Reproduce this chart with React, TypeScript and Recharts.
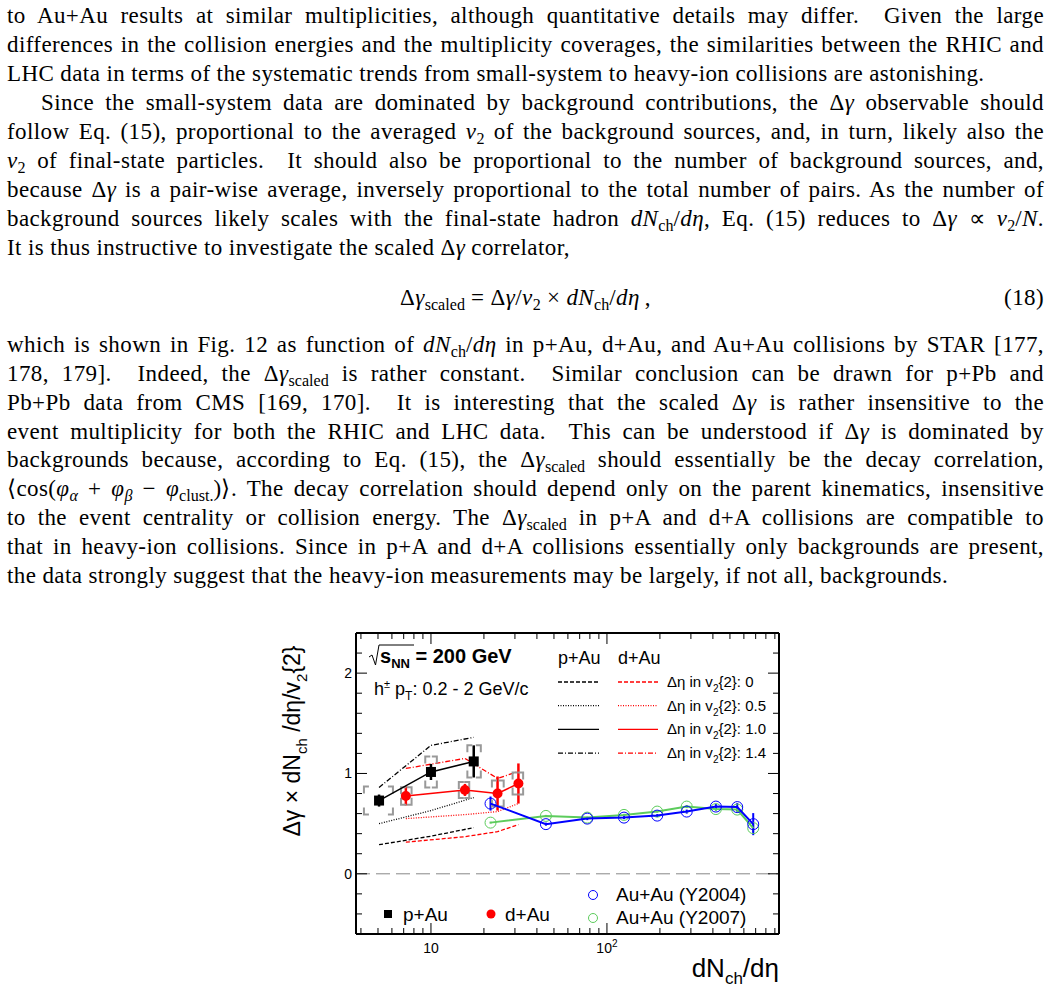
import React from "react"
import { ComposedChart, Line, Scatter, XAxis, YAxis, ErrorBar, ReferenceLine } from "recharts"

// axis ticks
const xTicks = [4, 5, 6, 7, 8, 9, 10, 20, 30, 40, 50, 60, 70, 80, 90, 100, 200, 300, 400, 500, 600, 700, 800, 900]
const xMajor = [10, 100]
const xMajorLabels = ["10", "10^2"]
const yTicks = [-0.4, -0.2, 0, 0.2, 0.4, 0.6, 0.8, 1, 1.2, 1.4, 1.6, 1.8, 2, 2.2]
const yMajor = [0, 1, 2]
const yMajorLabels = ["0", "1", "2"]

// p+Au (STAR), Δη = 1.0
const paX = [5.07, 10, 17.5]
const paY = [0.73, 1.015, 1.12]
const paErr = [0.06, 0.08, 0.16]
const paSys = [0.14, 0.155, 0.16]
const paXlo = [4.16, 9.28, 16.1]
const paXhi = [6.08, 10.8, 19.2]

// d+Au (STAR), Δη = 1.0
const daX = [7.2, 15.6, 23.9, 31.4]
const daY = [0.776, 0.836, 0.8, 0.9]
const daErr = [0.095, 0.06, 0.17, 0.2]
const daSys = [0.087, 0.08, 0.13, 0.11]
const daXlo = [6.76, 14.4, 22.2, 29.1]
const daXhi = [7.76, 16.5, 25.9, 33.4]

// p+Au / d+Au with other Δη gaps
const paGap0 = [0.29, 0.375, 0.46]
const paGap05 = [0.5, 0.63, 0.76]
const paGap14 = [0.86, 1.28, 1.36]
const daGap0 = [0.315, 0.37, 0.42, 0.49]
const daGap05 = [0.55, 0.59, 0.62, 0.7]
const daGap14 = [1.05, 1.15, 0.95, 1.02]

// Au+Au
const auX = [21.8, 45, 77.3, 125, 193, 284, 416, 550, 678]
const au04Y = [0.7, 0.495, 0.55, 0.56, 0.58, 0.62, 0.67, 0.665, 0.495]
const au04Err = [0.07, 0.015, 0.015, 0.015, 0.015, 0.02, 0.025, 0.04, 0.11]
const au07Y = [0.51, 0.577, 0.56, 0.587, 0.62, 0.67, 0.645, 0.64, 0.455]
const au07Err = [0.01, 0.01, 0.01, 0.01, 0.01, 0.015, 0.02, 0.03, 0.04]

const pts = (xs: number[], ys: number[], es?: number[]) =>
    xs.map((x, i) => ({ x, y: ys[i], e: es ? es[i] : 0 }))

const corners = (ys: number[], sys: number[], lo: number[], hi: number[]) =>
    ys.flatMap((y, i) => [
        { x: lo[i], y: y + sys[i], c: "tl" },
        { x: hi[i], y: y + sys[i], c: "tr" },
        { x: lo[i], y: y - sys[i], c: "bl" },
        { x: hi[i], y: y - sys[i], c: "br" },
    ])

const FONT = "'Liberation Sans', Arial, sans-serif"
const GREEN = "#5ccc5c"
const DASH = "4 2"
const DOT = "1 1.5"
const DASHDOT = "5 2 1 2"

const BottomTick = (p: any) => {
    const v = p.payload.value
    const k = xMajor.indexOf(v)
    const lab = k >= 0 ? xMajorLabels[k].split("^") : null
    return (
        <g>
            <line x1={p.x} x2={p.x} y1={p.y} y2={p.y - (k >= 0 ? 11 : 6)} stroke="#000" />
            {lab && (
                <text x={p.x} y={p.y + 19} textAnchor="middle" fontSize={14} fontFamily={FONT} fill="#000">
                    {lab[0]}
                    {lab[1] && <tspan dy={-6} fontSize={10}>{lab[1]}</tspan>}
                </text>
            )}
        </g>
    )
}

const TopTick = (p: any) => {
    const major = xMajor.includes(p.payload.value)
    return <line x1={p.x} x2={p.x} y1={p.y} y2={p.y + (major ? 11 : 6)} stroke="#000" />
}

const LeftTick = (p: any) => {
    const v = p.payload.value
    const k = yMajor.findIndex((m) => Math.abs(m - v) < 1e-6)
    return (
        <g>
            <line x1={p.x} x2={p.x + (k >= 0 ? 11 : 6)} y1={p.y} y2={p.y} stroke="#000" />
            {k >= 0 && (
                <text x={p.x - 4} y={p.y + 5} textAnchor="end" fontSize={14} fontFamily={FONT} fill="#000">
                    {yMajorLabels[k]}
                </text>
            )}
        </g>
    )
}

const RightTick = (p: any) => {
    const major = yMajor.some((m) => Math.abs(m - p.payload.value) < 1e-6)
    return <line x1={p.x} x2={p.x - (major ? 11 : 6)} y1={p.y} y2={p.y} stroke="#000" />
}

const Corner = (p: any) => {
    const { cx, cy } = p
    const c = p.payload.c
    const h = c[1] === "l" ? 5 : -5
    const v = c[0] === "t" ? 7 : -7
    return <path d={`M${cx + h},${cy} L${cx},${cy} L${cx},${cy + v}`} fill="none" stroke="#999" strokeWidth={2} />
}

const Square = (p: any) => <rect x={p.cx - 5} y={p.cy - 5} width={10} height={10} fill="#000" />
const Dot = (p: any) => <circle cx={p.cx} cy={p.cy} r={5} fill="#ff0000" />
const Ring = (color: string) => (p: any) => (
    <circle cx={p.cx} cy={p.cy} r={5.5} fill="none" stroke={color} strokeWidth={1} />
)

const sub: React.CSSProperties = { fontSize: "0.7em", position: "relative", top: "0.3em", lineHeight: 0, letterSpacing: 0 }
const Sub = ({ children }: any) => <span style={sub}>{children}</span>
const dNdeta = (
    <>
        <i>dN</i>
        <Sub>ch</Sub>/<i>dη</i>
    </>
)
const dgs = (
    <>
        Δ<i>γ</i>
        <Sub>scaled</Sub>
    </>
)
const v2 = (
    <>
        <i>v</i>
        <Sub>2</Sub>
    </>
)

const TextLine = ({ top, indent = 0, justify = true, children }: any) => (
    <div
        style={{
            position: "absolute",
            left: 7,
            width: 1037 - indent,
            paddingLeft: indent,
            top,
            height: 29,
            lineHeight: "29px",
            whiteSpace: "nowrap",
            textAlign: justify ? "justify" : "left",
            textAlignLast: justify ? "justify" : "left",
        }}
    >
        {children}
    </div>
)

const block1 = [
    <>to Au+Au results at similar multiplicities, although quantitative details may differ. &nbsp;Given the large</>,
    <>differences in the collision energies and the multiplicity coverages, the similarities between the RHIC and</>,
    <>LHC data in terms of the systematic trends from small-system to heavy-ion collisions are astonishing.</>,
    <>Since the small-system data are dominated by background contributions, the Δ<i>γ</i> observable should</>,
    <>follow Eq. (15), proportional to the averaged {v2} of the background sources, and, in turn, likely also the</>,
    <>{v2} of final-state particles. &nbsp;It should also be proportional to the number of background sources, and,</>,
    <>because Δ<i>γ</i> is a pair-wise average, inversely proportional to the total number of pairs. As the number of</>,
    <>background sources likely scales with the final-state hadron {dNdeta}, Eq. (15) reduces to Δ<i>γ</i> ∝ {v2}/<i>N</i>.</>,
    <>It is thus instructive to investigate the scaled Δ<i>γ</i> correlator,</>,
]

const block2 = [
    <>which is shown in Fig. 12 as function of {dNdeta} in p+Au, d+Au, and Au+Au collisions by STAR [177,</>,
    <>178, 179]. &nbsp;Indeed, the {dgs} is rather constant. &nbsp;Similar conclusion can be drawn for p+Pb and</>,
    <>Pb+Pb data from CMS [169, 170]. &nbsp;It is interesting that the scaled Δ<i>γ</i> is rather insensitive to the</>,
    <>event multiplicity for both the RHIC and LHC data. &nbsp;This can be understood if Δ<i>γ</i> is dominated by</>,
    <>backgrounds because, according to Eq. (15), the {dgs} should essentially be the decay correlation,</>,
    <>⟨cos(<i>φ</i><Sub><i>α</i></Sub> + <i>φ</i><Sub><i>β</i></Sub> − <i>φ</i><Sub>clust.</Sub>)⟩. The decay correlation should depend only on the parent kinematics, insensitive</>,
    <>to the event centrality or collision energy. The {dgs} in p+A and d+A collisions are compatible to</>,
    <>that in heavy-ion collisions. Since in p+A and d+A collisions essentially only backgrounds are present,</>,
    <>the data strongly suggest that the heavy-ion measurements may be largely, if not all, backgrounds.</>,
]

export default function App() {
    const theory = [
        { d: pts(paX, paGap0), c: "#000", s: DASH },
        { d: pts(paX, paGap05), c: "#000", s: DOT },
        { d: pts(paX, paGap14), c: "#000", s: DASHDOT },
        { d: pts(daX, daGap0), c: "#ff0000", s: DASH },
        { d: pts(daX, daGap05), c: "#ff0000", s: DOT },
        { d: pts(daX, daGap14), c: "#ff0000", s: DASHDOT },
    ]
    const legendRows = [
        { s: DASH, t: "0" },
        { s: DOT, t: "0.5" },
        { s: undefined, t: "1.0" },
        { s: DASHDOT, t: "1.4" },
    ]
    return (
        <div
            style={{
                position: "absolute",
                left: 0,
                top: 0,
                width: 1062,
                height: 995,
                background: "#fff",
                fontFamily: "'Liberation Serif', 'Times New Roman', serif",
                fontSize: 23,
                letterSpacing: "0.4px",
                color: "#000",
            }}
        >
            {block1.map((t, i) => (
                <TextLine key={"a" + i} top={0.8 + 29 * i} indent={i === 3 ? 34 : 0} justify={i !== 2 && i !== 8}>
                    {t}
                </TextLine>
            ))}
            <div
                style={{
                    position: "absolute",
                    left: 7,
                    width: 1037,
                    top: 282.8,
                    lineHeight: "29px",
                    whiteSpace: "nowrap",
                    textAlign: "center",
                }}
            >
                {dgs} = Δ<i>γ</i>/{v2} × {dNdeta}&thinsp;,
            </div>
            <div style={{ position: "absolute", right: 18, top: 282.8, lineHeight: "29px" }}>(18)</div>
            {block2.map((t, i) => (
                <TextLine key={"b" + i} top={329.8 + 28.9 * i} justify={i !== 8}>
                    {t}
                </TextLine>
            ))}

            <div style={{ position: "absolute", left: 300, top: 600, letterSpacing: 0 }}>
                <ComposedChart width={500} height={395} margin={{ top: 32, right: 20, bottom: 31, left: 16 }}>
                    <XAxis
                        dataKey="x"
                        type="number"
                        scale="log"
                        domain={[3.75, 950]}
                        allowDataOverflow
                        ticks={xTicks}
                        interval={0}
                        tickLine={false}
                        tickSize={0}
                        tickMargin={0}
                        height={30}
                        axisLine={{ stroke: "#000", strokeWidth: 2 }}
                        tick={<BottomTick />}
                    />
                    <XAxis
                        xAxisId="top"
                        orientation="top"
                        dataKey="x"
                        type="number"
                        scale="log"
                        domain={[3.75, 950]}
                        allowDataOverflow
                        ticks={xTicks}
                        interval={0}
                        tickLine={false}
                        tickSize={0}
                        tickMargin={0}
                        height={1}
                        axisLine={{ stroke: "#000", strokeWidth: 2 }}
                        tick={<TopTick />}
                    />
                    <YAxis
                        dataKey="y"
                        type="number"
                        domain={[-0.6, 2.4]}
                        allowDataOverflow
                        ticks={yTicks}
                        interval={0}
                        tickLine={false}
                        tickSize={0}
                        tickMargin={0}
                        width={40}
                        axisLine={{ stroke: "#000", strokeWidth: 2 }}
                        tick={<LeftTick />}
                    />
                    <YAxis
                        yAxisId="right"
                        orientation="right"
                        dataKey="y"
                        type="number"
                        domain={[-0.6, 2.4]}
                        allowDataOverflow
                        ticks={yTicks}
                        interval={0}
                        tickLine={false}
                        tickSize={0}
                        tickMargin={0}
                        width={1}
                        axisLine={{ stroke: "#000", strokeWidth: 2 }}
                        tick={<RightTick />}
                    />
                    <ReferenceLine y={0} stroke="#888" strokeDasharray="14 6" strokeWidth={1} />

                    <Scatter data={corners(paY, paSys, paXlo, paXhi)} shape={<Corner />} isAnimationActive={false} />
                    <Scatter data={corners(daY, daSys, daXlo, daXhi)} shape={<Corner />} isAnimationActive={false} />

                    {theory.map((t, i) => (
                        <Line
                            key={i}
                            data={t.d}
                            dataKey="y"
                            stroke={t.c}
                            strokeWidth={1.3}
                            strokeDasharray={t.s}
                            dot={false}
                            activeDot={false}
                            isAnimationActive={false}
                        />
                    ))}

                    <Scatter
                        data={pts(auX, au07Y, au07Err)}
                        line={{ stroke: GREEN, strokeWidth: 2 }}
                        shape={Ring(GREEN)}
                        isAnimationActive={false}
                    >
                        <ErrorBar dataKey="e" direction="y" width={0} stroke={GREEN} strokeWidth={2} />
                    </Scatter>
                    <Scatter
                        data={pts(auX, au04Y, au04Err)}
                        line={{ stroke: "#0000ff", strokeWidth: 2 }}
                        shape={Ring("#0000ff")}
                        isAnimationActive={false}
                    >
                        <ErrorBar dataKey="e" direction="y" width={0} stroke="#0000ff" strokeWidth={2} />
                    </Scatter>
                    <Scatter
                        data={pts(daX, daY, daErr)}
                        line={{ stroke: "#ff0000", strokeWidth: 1.5 }}
                        shape={<Dot />}
                        isAnimationActive={false}
                    >
                        <ErrorBar dataKey="e" direction="y" width={0} stroke="#ff0000" strokeWidth={2.5} />
                    </Scatter>
                    <Scatter
                        data={pts(paX, paY, paErr)}
                        line={{ stroke: "#000", strokeWidth: 1.5 }}
                        shape={<Square />}
                        isAnimationActive={false}
                    >
                        <ErrorBar dataKey="e" direction="y" width={0} stroke="#000" strokeWidth={2.5} />
                    </Scatter>
                </ComposedChart>
            </div>

            <svg
                width={1062}
                height={995}
                style={{ position: "absolute", left: 0, top: 0, pointerEvents: "none", letterSpacing: 0 }}
                fontFamily={FONT}
            >
                {/* y title */}
                <text transform="rotate(-90 300 741)" x={300} y={741} textAnchor="middle" fontSize={23}>
                    Δγ × dN<tspan dy={7} fontSize={15}>ch</tspan>
                    <tspan dy={-7}> /dη/v</tspan>
                    <tspan dy={7} fontSize={15}>2</tspan>
                    <tspan dy={-7}>{"{2}"}</tspan>
                </text>
                {/* x title */}
                <text x={779} y={977} textAnchor="end" fontSize={26}>
                    dN<tspan dy={7} fontSize={17}>ch</tspan>
                    <tspan dy={-7}>/dη</tspan>
                </text>

                {/* top-left label */}
                <path d="M369,657 L372,655 L375.5,665 L379,645 L414,645" fill="none" stroke="#000" strokeWidth={1} />
                <text x={380} y={663} fontSize={20} fontWeight="bold">
                    s<tspan dy={5} fontSize={13}>NN</tspan>
                    <tspan dy={-5}> = 200 GeV</tspan>
                </text>
                <text x={374} y={695} fontSize={18}>
                    h<tspan dy={-7} fontSize={11}>±</tspan>
                    <tspan dy={7}> p</tspan>
                    <tspan dy={5} fontSize={12}>T</tspan>
                    <tspan dy={-5}>: 0.2 - 2 GeV/c</tspan>
                </text>

                {/* Δη legend */}
                <text x={558} y={664} fontSize={18}>p+Au</text>
                <text x={618} y={664} fontSize={18}>d+Au</text>
                {legendRows.map((r, i) => {
                    const y = 682 + 23.7 * i
                    return (
                        <g key={i}>
                            <line x1={558} x2={599} y1={y} y2={y} stroke="#000" strokeWidth={1.3} strokeDasharray={r.s} />
                            <line x1={618} x2={658} y1={y} y2={y} stroke="#ff0000" strokeWidth={1.3} strokeDasharray={r.s} />
                            <text x={667} y={y + 5} fontSize={15}>
                                Δη in v<tspan dy={5} fontSize={10}>2</tspan>
                                <tspan dy={-5}>{"{2}: " + r.t}</tspan>
                            </text>
                        </g>
                    )
                })}

                {/* marker legend */}
                <rect x={384} y={910} width={8} height={8} fill="#000" />
                <text x={403} y={921} fontSize={19}>p+Au</text>
                <circle cx={491} cy={914} r={4.5} fill="#ff0000" />
                <text x={505} y={921} fontSize={19}>d+Au</text>
                <circle cx={593} cy={895} r={4.5} fill="none" stroke="#0000ff" />
                <text x={616} y={901} fontSize={19}>Au+Au (Y2004)</text>
                <circle cx={593} cy={918} r={4.5} fill="none" stroke={GREEN} />
                <text x={616} y={924} fontSize={19}>Au+Au (Y2007)</text>
            </svg>
        </div>
    )
}
